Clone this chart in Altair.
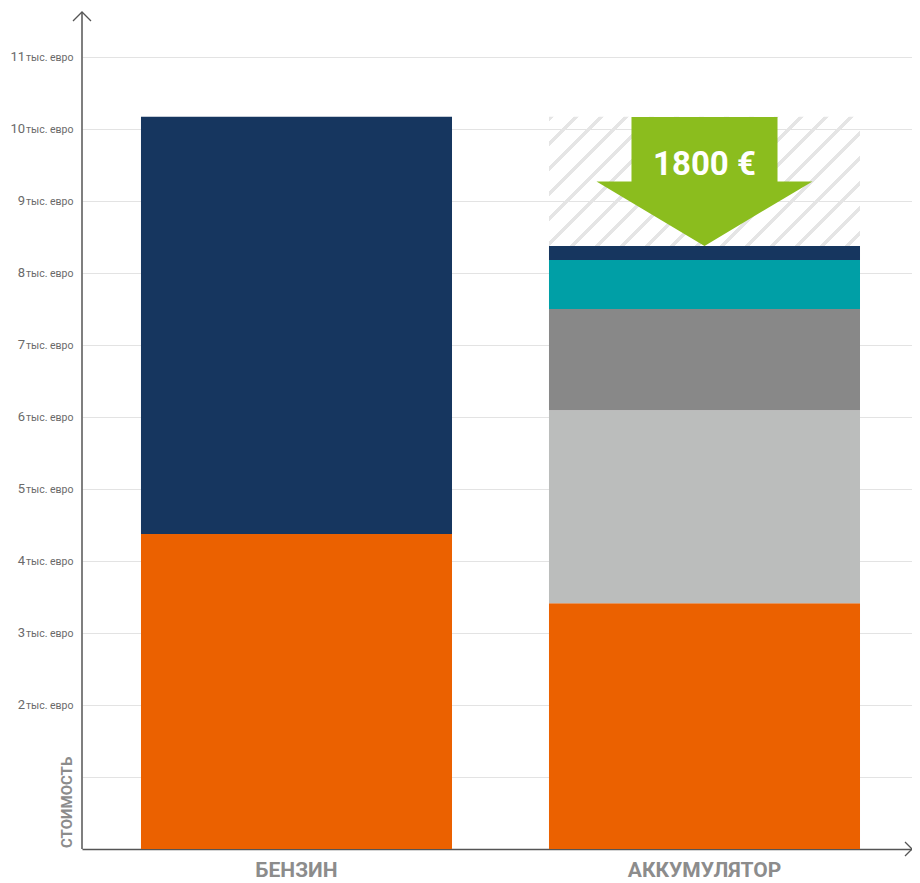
import altair as alt
import pandas as pd

# ---------------- data ----------------
categories = ["БЕНЗИН", "АККУМУЛЯТОР"]
segments = ["Энергия", "Батарея", "Обслуживание", "Страховка", "Прочее"]
segment_colors = ["#eb6100", "#bbbdbc", "#888888", "#009fa6", "#16365f"]
benzin_values = [4375, 0, 0, 0, 5795]
akku_values = [3415, 2680, 1405, 680, 195]
savings_label = ["1800 €"]
y_ticks = [0, 1000, 2000, 3000, 4000, 5000, 6000, 7000, 8000, 9000, 10000, 11000]
y_tick_unit = "тыс. евро"

# ---------------- layout constants ----------------
W, H = 830, 841
YMAX = 11681
PI, PO, ALIGN = 0.2377, 0.136, 0.5315
GREEN = "#8bbd1e"
HATCH = "#e5e5e5"
AXIS = "#555555"
LABEL = "#6a6a6a"
FONT = "Roboto"

rows = []
for cat, vals in ((categories[0], benzin_values), (categories[1], akku_values)):
    for i, (s, v) in enumerate(zip(segments, vals)):
        if v > 0:
            rows.append(dict(cat=cat, seg=s, val=v, idx=i))
df = pd.DataFrame(rows)

tot_b = sum(benzin_values)
tot_a = sum(akku_values)
gap = tot_b - tot_a

xscale = alt.Scale(domain=categories, paddingInner=PI, paddingOuter=PO, align=ALIGN)
yscale = alt.Scale(domain=[0, YMAX], nice=False, zero=True)

X_AXIS = alt.Axis(labelFont=FONT, labelFontSize=21, labelFontWeight="bold",
                  labelColor="#8c8c8c", labelPadding=10, ticks=False,
                  domainColor=AXIS, domainWidth=1.5, labelAngle=0)
Y_AXIS = alt.Axis(values=y_ticks,
                  labelExpr="datum.value < 1500 ? '' : '" + y_tick_unit + "'",
                  grid=True, gridColor="#e3e3e3", gridWidth=1.2, ticks=False,
                  domain=False, labelFont=FONT,
                  labelFontSize=10.5, labelColor=LABEL, labelPadding=9)

bars = alt.Chart(df).mark_bar().encode(
    x=alt.X("cat:N", scale=xscale, sort=categories, title=None, axis=X_AXIS),
    y=alt.Y("val:Q", scale=yscale, stack="zero", title=None, axis=Y_AXIS),
    color=alt.Color("seg:N", scale=alt.Scale(domain=segments, range=segment_colors), legend=None),
    order=alt.Order("idx:Q"),
)

# numbers of the y tick labels (larger than the unit text)
tick_df = pd.DataFrame({"v": [v for v in y_ticks if v >= 2000]})
tick_df["n"] = (tick_df["v"] // 1000).astype(str)
tick_nums = alt.Chart(tick_df).mark_text(font=FONT, fontSize=13, color=LABEL,
                                         align="right", baseline="middle").encode(
    x=alt.value(-57),
    y=alt.Y("v:Q", scale=yscale, title=None, axis=Y_AXIS),
    text="n:N",
)

# hatched "savings" area above the battery bar (diagonal stripes via hard-stop gradient)
step = W / (len(categories) - PI + 2 * PO)
bw = step * (1 - PI)
k = H / YMAX
bh = gap * k
r = bh / bw
s = (1 + r) / (1 + r * r)
period = 25.0 / (bw + bh)
frac = 0.2
stops = []
t = 0.0
while t < 1.0:
    a, b, c = t, min(1.0, t + frac * period), min(1.0, t + period)
    stops += [
        {"offset": a, "color": HATCH},
        {"offset": b, "color": HATCH},
        {"offset": b, "color": "rgba(255,255,255,0)"},
        {"offset": c, "color": "rgba(255,255,255,0)"},
    ]
    t += period
hatch_fill = {"gradient": "linear", "x1": 0, "y1": 0, "x2": s, "y2": s * r, "stops": stops}

arrow_df = pd.DataFrame({
    "cat": [categories[1]],
    "ya": [tot_a],
    "yb": [tot_b],
    "ymid": [(tot_a + tot_b) / 2],
    "ytext": [tot_b - 0.37 * gap],
    "label": savings_label,
})
hatch = alt.Chart(arrow_df).mark_bar(fill=hatch_fill).encode(
    x=alt.X("cat:N", scale=xscale, sort=categories, title=None, axis=X_AXIS),
    y=alt.Y("ya:Q", scale=yscale, title=None, axis=Y_AXIS),
    y2="yb:Q",
)

ARROW = "M-0.676,-0.597 L0.676,-0.597 L0.676,0 L1,0 L0,0.597 L-1,0 L-0.676,0 Z"
arrow = alt.Chart(arrow_df).mark_point(shape=ARROW, size=216 ** 2, filled=True,
                                       color=GREEN, opacity=1, strokeWidth=0).encode(
    x=alt.X("cat:N", scale=xscale, sort=categories, title=None, axis=X_AXIS),
    y=alt.Y("ymid:Q", scale=yscale, title=None, axis=Y_AXIS),
)
arrow_text = alt.Chart(arrow_df).mark_text(font=FONT, fontSize=33, fontWeight="bold",
                                           color="white", align="center", baseline="middle").encode(
    x=alt.X("cat:N", scale=xscale, sort=categories, title=None, axis=X_AXIS),
    y=alt.Y("ytext:Q", scale=yscale, title=None, axis=Y_AXIS),
    text="label:N",
)

deco_df = pd.DataFrame({"t": ["СТОИМОСТЬ"]})
ytitle = alt.Chart(deco_df).mark_text(font=FONT, fontSize=15, fontWeight="bold", color="#8c8c8c",
                                      angle=270, align="left", baseline="middle").encode(
    x=alt.value(-15), y=alt.value(H - 1), text="t:N")
yline = alt.Chart(deco_df).mark_rule(color=AXIS, strokeWidth=1.5).encode(
    x=alt.value(0), y=alt.value(4), y2=alt.value(H))
up_head = alt.Chart(deco_df).mark_point(shape="M-1,1 L0,0 L1,1", size=324, filled=False,
                                        color=AXIS, strokeWidth=1.3, opacity=1).encode(
    x=alt.value(0), y=alt.value(4))
right_head = alt.Chart(deco_df).mark_point(shape="M-1,-1 L0,0 L-1,1", size=196, filled=False,
                                           color=AXIS, strokeWidth=1.3, opacity=1).encode(
    x=alt.value(W), y=alt.value(H))

chart = alt.layer(hatch, bars, arrow, arrow_text, tick_nums, ytitle, yline, up_head,
                  right_head).properties(
    width=W, height=H,
    autosize=alt.AutoSizeParams(type="none"),
    padding={"left": 74, "top": 0, "right": 0, "bottom": 34},
).configure_view(stroke=None)

chart.save("out.html", embed_options={"renderer": "svg", "actions": False})
